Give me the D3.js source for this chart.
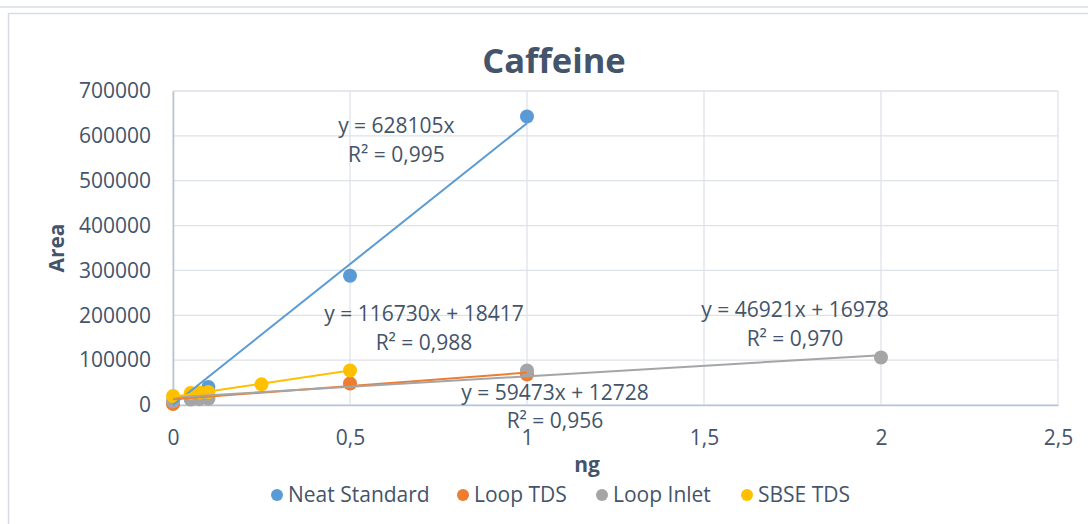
<!DOCTYPE html>
<html><head><meta charset="utf-8">
<script src="https://cdn.jsdelivr.net/npm/d3@7"></script>
<style>
html,body{margin:0;padding:0;background:#fff;}
svg{display:block;font-family:"Open Sans",sans-serif;}
</style></head>
<body><svg id="c" width="1088" height="524"></svg>
<script>
// ---- data ----
const seriesNames = ["Neat Standard", "Loop TDS", "Loop Inlet", "SBSE TDS"];
const neatX = [0, 0.05, 0.1, 0.5, 1];
const neatY = [5000, 20000, 40000, 288000, 643000];
const loopTdsX = [0, 0.05, 0.1, 0.5, 1];
const loopTdsY = [2000, 15000, 20000, 48000, 68000];
const loopInletX = [0, 0.05, 0.075, 0.1, 1, 2];
const loopInletY = [8000, 12000, 13000, 14000, 77000, 106000];
const sbseX = [0, 0.05, 0.075, 0.1, 0.25, 0.5];
const sbseY = [20000, 27000, 28000, 29000, 46000, 77000];
const slopes = [628105, 59473, 46921, 116730];
const intercepts = [0, 12728, 16978, 18417];
const eqLabels = ["y = 628105x", "y = 59473x + 12728", "y = 46921x + 16978", "y = 116730x + 18417"];
const r2Labels = ["R² = 0,995", "R² = 0,956", "R² = 0,970", "R² = 0,988"];
const xTicks = [0, 0.5, 1, 1.5, 2, 2.5];
const yTicks = [0, 100000, 200000, 300000, 400000, 500000, 600000, 700000];

// ---- styles / layout ----
const colors = ["#5B9BD5", "#ED7D31", "#A5A5A5", "#FFC000"];
const textCol = "#44546A";
const labelPos = [[0.631, 606300], [1.079, 11150], [1.757, 196170], [0.709, 187250]]; // data coords (baseline) for equation labels
const M = {l:173, r:1058, t:91, b:405};
const FS = 21;

const svg = d3.select("#c");
const x = d3.scaleLinear().domain([0, 2.5]).range([M.l, M.r]);
const y = d3.scaleLinear().domain([0, 700000]).range([M.b, M.t]);

// frames
svg.append("rect").attr("x", -5).attr("y", -20).attr("width", 1110).attr("height", 27)
  .attr("fill", "none").attr("stroke", "#D9DDE3").attr("stroke-width", 1.5);
svg.append("rect").attr("x", 8.5).attr("y", 13.5).attr("width", 1100).attr("height", 530)
  .attr("fill", "#fff").attr("stroke", "#D9DDE3").attr("stroke-width", 1.5);

// gridlines
const g = svg.append("g");
g.selectAll(".hg").data(yTicks).join("line")
  .attr("x1", M.l).attr("x2", M.r).attr("y1", d => y(d)).attr("y2", d => y(d))
  .attr("stroke", "#DDE2E9").attr("stroke-width", 1.3);
g.selectAll(".vg").data(xTicks).join("line")
  .attr("y1", M.t).attr("y2", M.b).attr("x1", d => x(d)).attr("x2", d => x(d))
  .attr("stroke", "#DDE2E9").attr("stroke-width", 1.3);

// axes
const fmtX = d => d3.format("")(d).replace(".", ",");
const xAxis = svg.append("g").attr("transform", `translate(0,${M.b})`)
  .call(d3.axisBottom(x).tickValues(xTicks).tickFormat(fmtX).tickSize(0).tickPadding(25));
const yAxis = svg.append("g").attr("transform", `translate(${M.l},0)`)
  .call(d3.axisLeft(y).tickValues(yTicks).tickFormat(d3.format("d")).tickSize(0).tickPadding(22));
[xAxis, yAxis].forEach(a => {
  a.select(".domain").attr("stroke", "#B9C3D2").attr("stroke-width", 1.6);
  a.selectAll("text").attr("fill", textCol).attr("font-size", FS)
    .attr("font-family", "'Open Sans', sans-serif");
});

// series
const xs = [neatX, loopTdsX, loopInletX, sbseX];
const ys = [neatY, loopTdsY, loopInletY, sbseY];
const series = seriesNames.map((n, i) => ({name:n, color:colors[i],
  pts: xs[i].map((v, j) => ({x:v, y:ys[i][j]})), m:slopes[i], b:intercepts[i]}));

series.forEach(s => {
  svg.append("g").selectAll("circle").data(s.pts).join("circle")
    .attr("cx", d => x(d.x)).attr("cy", d => y(d.y)).attr("r", 7)
    .attr("fill", s.color);
});
series.forEach(s => {
  const x0 = d3.min(s.pts, d => d.x), x1 = d3.max(s.pts, d => d.x);
  svg.append("line")
    .attr("x1", x(x0)).attr("y1", y(s.m * x0 + s.b))
    .attr("x2", x(x1)).attr("y2", y(s.m * x1 + s.b))
    .attr("stroke", s.color).attr("stroke-width", 2);
});

// equation labels
series.forEach((s, i) => {
  const cx = x(labelPos[i][0]);
  const t = svg.append("text").attr("text-anchor", "middle")
    .attr("fill", textCol).attr("font-size", FS)
    .attr("x", cx).attr("y", y(labelPos[i][1]));
  t.append("tspan").attr("x", cx).text(eqLabels[i]);
  t.append("tspan").attr("x", cx).attr("dy", 28.5).text(r2Labels[i]);
});

// title & axis titles
svg.append("text").attr("x", 554).attr("y", 73).attr("text-anchor", "middle")
  .attr("font-size", 34.5).attr("font-weight", "bold").attr("fill", textCol).text("Caffeine");
svg.append("text").attr("transform", "translate(64,248) rotate(-90)").attr("text-anchor", "middle")
  .attr("font-size", FS).attr("font-weight", "bold").attr("fill", textCol).text("Area");
svg.append("text").attr("x", 587).attr("y", 472).attr("text-anchor", "middle")
  .attr("font-size", FS).attr("font-weight", "bold").attr("fill", textCol).text("ng");

// legend
const legX = [277, 463, 602, 747];
const leg = svg.append("g");
series.forEach((s, i) => {
  leg.append("circle").attr("cx", legX[i]).attr("cy", 495).attr("r", 6).attr("fill", s.color);
  leg.append("text").attr("x", legX[i] + 11).attr("y", 502).attr("font-size", FS)
    .attr("fill", textCol).text(s.name);
});
</script></body></html>
